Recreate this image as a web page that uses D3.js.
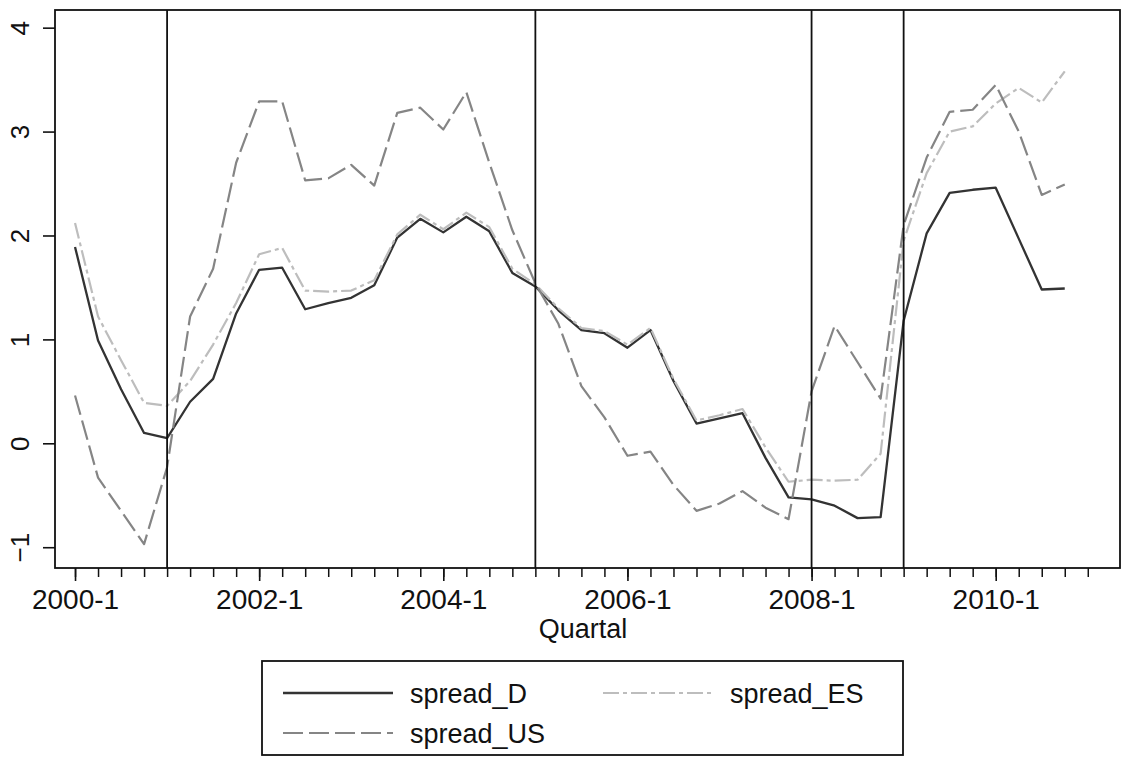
<!DOCTYPE html>
<html>
<head>
<meta charset="utf-8">
<script src="https://cdn.jsdelivr.net/npm/d3@7"></script>
<style>
  html, body { margin: 0; padding: 0; background: #fff; }
  svg { display: block; }
  text { font-family: "Liberation Sans", Arial, sans-serif; fill: #111; }
</style>
</head>
<body>
<svg id="chart" width="1129" height="760"></svg>
<script>
// Quarter index 0 = 2000q1 ... 43 = 2010q4
const quarters = d3.range(0, 44);
const spreadD = [1.89, 0.99, 0.52, 0.10, 0.05, 0.40, 0.62, 1.25, 1.67, 1.69, 1.29, 1.35,
  1.40, 1.52, 1.98, 2.16, 2.03, 2.18, 2.04, 1.64, 1.51, 1.28, 1.09, 1.06,
  0.92, 1.09, 0.60, 0.19, 0.24, 0.29, -0.14, -0.52, -0.54, -0.60, -0.72, -0.71,
  1.18, 2.02, 2.41, 2.44, 2.46, 1.97, 1.48, 1.49];
const spreadES = [2.12, 1.22, 0.80, 0.39, 0.36, 0.60, 0.95, 1.35, 1.82, 1.88, 1.47, 1.46,
  1.47, 1.57, 2.01, 2.20, 2.06, 2.22, 2.08, 1.68, 1.53, 1.30, 1.11, 1.08,
  0.95, 1.11, 0.62, 0.22, 0.27, 0.33, -0.04, -0.37, -0.35, -0.36, -0.35, -0.10,
  1.95, 2.60, 3.00, 3.05, 3.27, 3.42, 3.28, 3.58];
const spreadUS = [0.46, -0.33, -0.65, -0.97, -0.23, 1.22, 1.68, 2.70, 3.29, 3.29, 2.53, 2.55,
  2.68, 2.48, 3.18, 3.23, 3.02, 3.38, 2.70, 2.05, 1.54, 1.15, 0.55, 0.25,
  -0.12, -0.08, -0.40, -0.65, -0.58, -0.46, -0.62, -0.73, 0.50, 1.13, 0.78, 0.43,
  2.10, 2.75, 3.19, 3.21, 3.45, 3.00, 2.39, 2.49];
const xTickIdx = d3.range(0, 45);
const xLabelIdx = [0, 8, 16, 24, 32, 40];
const xLabels = ["2000-1", "2002-1", "2004-1", "2006-1", "2008-1", "2010-1"];
const yTicks = [-1, 0, 1, 2, 3, 4];
const breakIdx = [4, 20, 32, 36];
const seriesNames = ["spread_D", "spread_ES", "spread_US"];

const svg = d3.select("#chart");
const L = 55, R = 1120, T = 10, B = 568;
const x = d3.scaleLinear().domain([-0.87, 45.4]).range([L, R]);
const y = d3.scaleLinear().domain([-1.2, 4.17]).range([B, T]);

const styles = [
  { color: "#333333", dash: null, width: 2.3 },
  { color: "#bdbdbd", dash: "16,4,4,4", width: 2.2 },
  { color: "#858585", dash: "20,6", width: 2.2 }
];
const allSeries = [spreadD, spreadES, spreadUS];

// frame
svg.append("rect").attr("x", L).attr("y", T).attr("width", R - L).attr("height", B - T)
  .attr("fill", "none").attr("stroke", "#111").attr("stroke-width", 1.8);

// y axis
const yAxis = d3.axisLeft(y).tickValues(yTicks).tickSize(12).tickFormat(d3.format("d"));
const gy = svg.append("g").attr("transform", `translate(${L},0)`).call(yAxis);
gy.select(".domain").remove();
gy.selectAll(".tick line").attr("stroke", "#111").attr("stroke-width", 1.6);
gy.selectAll(".tick text").remove();
gy.selectAll(".tick").append("text")
  .attr("transform", "translate(-26,0) rotate(-90)")
  .attr("text-anchor", "middle")
  .attr("font-size", 26)
  .attr("fill", "#111")
  .text(d => d3.format("d")(d));

// x axis minor ticks
const xAxisMinor = d3.axisBottom(x).tickValues(xTickIdx).tickSize(9).tickFormat("");
const gxm = svg.append("g").attr("transform", `translate(0,${B})`).call(xAxisMinor);
gxm.select(".domain").remove();
gxm.selectAll(".tick line").attr("stroke", "#111").attr("stroke-width", 1.5);

// x axis major ticks with labels
const xAxis = d3.axisBottom(x).tickValues(xLabelIdx).tickSize(13)
  .tickFormat((d, i) => xLabels[i]);
const gx = svg.append("g").attr("transform", `translate(0,${B})`).call(xAxis);
gx.select(".domain").remove();
gx.selectAll(".tick line").attr("stroke", "#111").attr("stroke-width", 1.6);
gx.selectAll(".tick text").attr("font-size", 28).attr("fill", "#111")
  .attr("font-family", "Liberation Sans, Arial, sans-serif").attr("dy", "1em").attr("y", 13);

// axis title
svg.append("text").attr("x", 583).attr("y", 638).attr("text-anchor", "middle")
  .attr("font-size", 27).text("Quartal");

// series lines
const line = d3.line().x((d, i) => x(quarters[i])).y(d => y(d));
allSeries.forEach((s, k) => {
  svg.append("path").datum(s)
    .attr("d", line)
    .attr("fill", "none")
    .attr("stroke", styles[k].color)
    .attr("stroke-width", styles[k].width)
    .attr("stroke-dasharray", styles[k].dash)
    .attr("stroke-linejoin", "round");
});

// vertical break lines
svg.selectAll(".vline").data(breakIdx).enter().append("line")
  .attr("x1", d => x(d)).attr("x2", d => x(d))
  .attr("y1", T).attr("y2", B)
  .attr("stroke", "#111").attr("stroke-width", 1.8);

// legend
const lg = svg.append("g");
lg.append("rect").attr("x", 262).attr("y", 661).attr("width", 641).attr("height", 94)
  .attr("fill", "#fff").attr("stroke", "#111").attr("stroke-width", 1.8);
const legendPos = [
  { lx: 283, ly: 693 },
  { lx: 603, ly: 693 },
  { lx: 283, ly: 733 }
];
seriesNames.forEach((name, k) => {
  const p = legendPos[k];
  lg.append("line").attr("x1", p.lx).attr("x2", p.lx + 110)
    .attr("y1", p.ly).attr("y2", p.ly)
    .attr("stroke", styles[k].color).attr("stroke-width", styles[k].width)
    .attr("stroke-dasharray", styles[k].dash);
  lg.append("text").attr("x", p.lx + 127).attr("y", p.ly + 10)
    .attr("font-size", 27).text(name);
});
</script>
</body>
</html>
